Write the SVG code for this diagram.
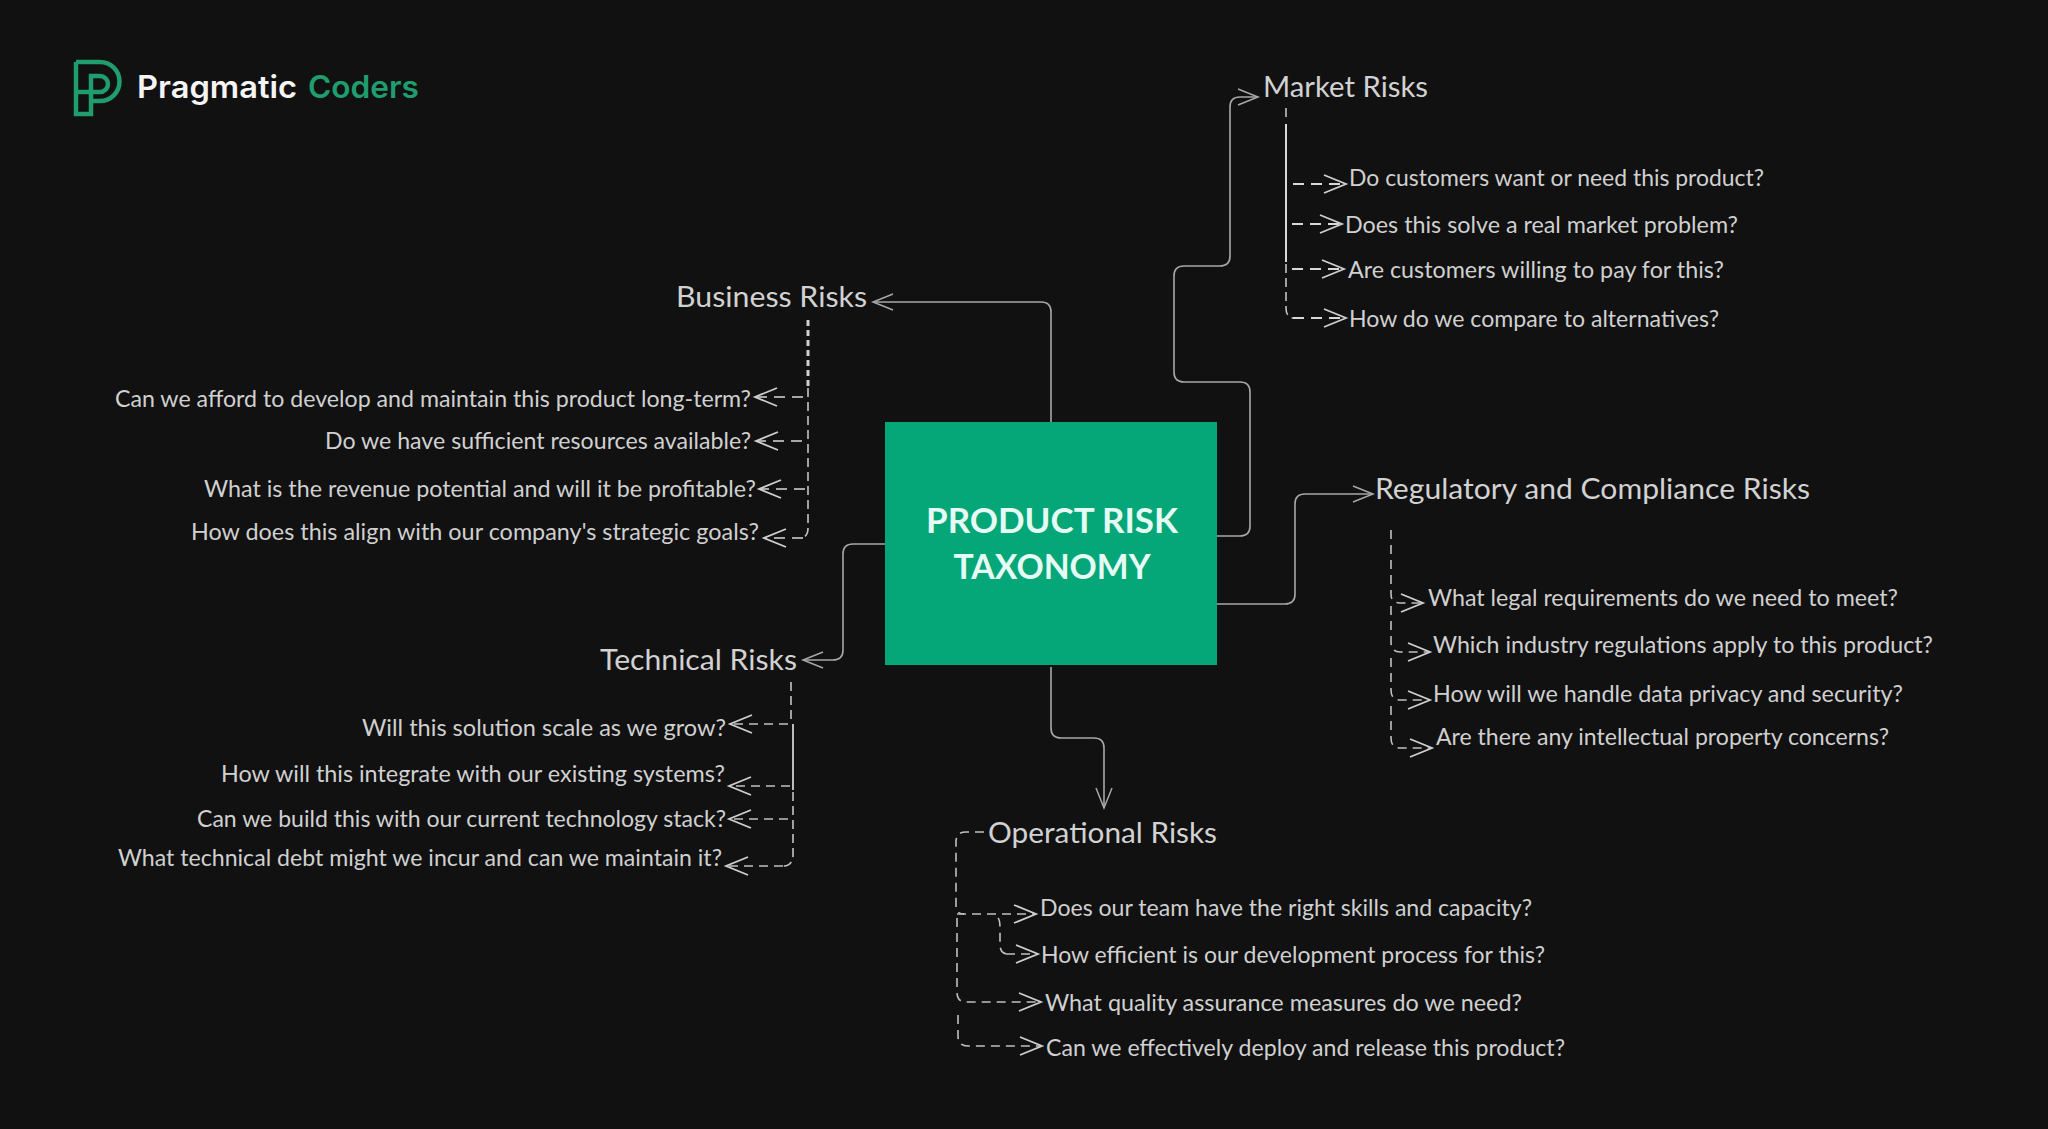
<svg xmlns="http://www.w3.org/2000/svg" width="2048" height="1129" viewBox="0 0 2048 1129">
<style>
text{font-family:"Lato","Noto Sans","Liberation Sans",sans-serif}
.h{font-size:28px;fill:#d2d2d2}
.q{font-size:22.5px;fill:#d0d0d0}
.t{font-size:34px;font-weight:700;fill:#e6fbf4;text-anchor:middle}
.c{fill:none;stroke:#a8a8a8;stroke-width:1.6;stroke-linejoin:round}
.s{marker-end:url(#big)}
.d{fill:none;stroke:#c0c0c0;stroke-width:1.6;stroke-dasharray:9 6}
.a{marker-end:url(#head)}
.b{stroke:#d8d8d8;stroke-width:2.2;stroke-dasharray:11 7}
.stem{fill:none;stroke:#c4c4c4;stroke-width:1.6;stroke-dasharray:9 5}
.l{fill:none;stroke:#1f9d6e;stroke-width:4.5}
.lt{font-size:31px;font-weight:600;font-family:"Inter","Lato",sans-serif}
</style>
<defs>
<marker id="head" markerUnits="userSpaceOnUse" markerWidth="28" markerHeight="24" refX="25" refY="12" orient="auto"><path d="M3,3 L25,12 L3,21" fill="none" stroke="#cfcfcf" stroke-width="1.8"/></marker>
<marker id="big" markerUnits="userSpaceOnUse" markerWidth="26" markerHeight="22" refX="22" refY="11" orient="auto"><path d="M2,3 L22,11 L2,19" fill="none" stroke="#a8a8a8" stroke-width="1.5"/></marker>
</defs>
<rect width="2048" height="1129" fill="#111111"/>

<g id="connectors">
<path class="c s" d="M1051,422 V312 Q1051,302 1041,302 H873"/>
<path class="c s" d="M1217,536 H1240 Q1250,536 1250,526 V392 Q1250,382 1240,382 H1184 Q1174,382 1174,372 V276 Q1174,266 1184,266 H1220 Q1230,266 1230,256 V107 Q1230,97 1240,97 H1258"/>
<path class="c s" d="M1217,604 H1285 Q1295,604 1295,594 V504 Q1295,494 1305,494 H1373"/>
<path class="c s" d="M885,544 H853 Q843,544 843,554 V650 Q843,660 833,660 H803"/>
<path class="c s" d="M1051,667 V728 Q1051,738 1061,738 H1094 Q1104,738 1104,748 V808"/>

<path class="stem" d="M1286,108 V122"/>
<path fill="none" stroke="#d8d8d8" stroke-width="2" d="M1286,124 V262"/>
<path class="stem" d="M1286,264 V308 Q1286,317 1293,318"/>
<path class="d b a" d="M1293,184 H1346"/>
<path class="d b a" d="M1292,224 H1342"/>
<path class="d b a" d="M1292,269 H1344"/>
<path class="d b a" d="M1293,318 H1346"/>

<path class="stem" style="stroke-width:3;stroke-dasharray:6 4;stroke:#d0d0d0" d="M808,320 V388"/>
<path class="stem" d="M808,388 V528 Q808,537 801,538"/>
<path class="d b a" style="stroke-width:1.7" d="M803,397 H755"/>
<path class="d b a" style="stroke-width:1.7" d="M802,441 H756"/>
<path class="d b a" style="stroke-width:1.7" d="M805,489 H759"/>
<path class="d b a" style="stroke-width:1.7" d="M803,538 H764"/>

<path class="stem" d="M791,682 V722"/>
<path fill="none" stroke="#d0d0d0" stroke-width="1.8" d="M793,724 V790"/>
<path class="stem" d="M793,792 V856 Q792,866 783,866"/>
<path class="d a" d="M788,724 H730"/>
<path class="d a" d="M790,786 H729"/>
<path class="d a" d="M788,819 H729"/>
<path class="d a" d="M783,866 H726"/>

<path class="d" d="M984,832 H966 Q956,832 956,842 V905 Q956,914 964,914"/>
<path class="d a" d="M957,914 H1036"/>
<path class="d" d="M998,918 Q1000,920 1000,928 V944 Q1000,954 1008,954"/>
<path class="d a" d="M1006,954 H1038"/>
<path class="d a" d="M957,918 V992 Q957,1002 966,1002 H1041"/>
<path class="d a" d="M958,1015 V1036 Q958,1046 968,1046 H1042"/>

<path class="d a" d="M1391,530 V594 Q1391,603 1400,603 H1423"/>
<path class="d a" d="M1391,606 V642 Q1391,652 1400,652 H1430"/>
<path class="d a" d="M1391,658 V690 Q1391,700 1400,700 H1430"/>
<path class="d a" d="M1391,706 V738 Q1391,748 1400,748 H1432"/>
</g>

<g id="logo">
<path class="l" d="M100,101 H91 M76,62 H100 A19.500,19.500 0 0 1 100,101 M76,62 V114 H91 V76 H100 A8,8 0 0 1 100,92 H76"/>
<text class="lt" x="137" y="98" fill="#f5f5f5" textLength="160" lengthAdjust="spacingAndGlyphs">Pragmatic</text>
<text class="lt" x="308" y="98" fill="#1f9d6e" textLength="111" lengthAdjust="spacingAndGlyphs">Coders</text>
</g>

<g id="root">
<rect x="885" y="422" width="332" height="243" fill="#05a677"/>
<text class="t" x="1052" y="533" textLength="252" lengthAdjust="spacingAndGlyphs">PRODUCT RISK</text>
<text class="t" x="1052" y="579" textLength="197" lengthAdjust="spacingAndGlyphs">TAXONOMY</text>
</g>

<g id="market-risks"><text class="h" x="1263" y="97" textLength="165" lengthAdjust="spacingAndGlyphs">Market Risks</text></g>
<g id="m1"><text class="q" x="1349" y="186" textLength="415" lengthAdjust="spacingAndGlyphs">Do customers want or need this product?</text></g>
<g id="m2"><text class="q" x="1345" y="233" textLength="393" lengthAdjust="spacingAndGlyphs">Does this solve a real market problem?</text></g>
<g id="m3"><text class="q" x="1348" y="278" textLength="376" lengthAdjust="spacingAndGlyphs">Are customers willing to pay for this?</text></g>
<g id="m4"><text class="q" x="1349" y="327" textLength="370" lengthAdjust="spacingAndGlyphs">How do we compare to alternatives?</text></g>

<g id="business-risks"><text class="h" x="676" y="307" textLength="191" lengthAdjust="spacingAndGlyphs">Business Risks</text></g>
<g id="b1"><text class="q" x="115" y="407" textLength="636" lengthAdjust="spacingAndGlyphs">Can we afford to develop and maintain this product long-term?</text></g>
<g id="b2"><text class="q" x="325" y="449" textLength="426" lengthAdjust="spacingAndGlyphs">Do we have sufficient resources available?</text></g>
<g id="b3"><text class="q" x="204" y="497" textLength="552" lengthAdjust="spacingAndGlyphs">What is the revenue potential and will it be profitable?</text></g>
<g id="b4"><text class="q" x="191" y="540" textLength="568" lengthAdjust="spacingAndGlyphs">How does this align with our company's strategic goals?</text></g>

<g id="technical-risks"><text class="h" x="600" y="670" textLength="197" lengthAdjust="spacingAndGlyphs">Technical Risks</text></g>
<g id="t1"><text class="q" x="362" y="736" textLength="364" lengthAdjust="spacingAndGlyphs">Will this solution scale as we grow?</text></g>
<g id="t2"><text class="q" x="221" y="782" textLength="504" lengthAdjust="spacingAndGlyphs">How will this integrate with our existing systems?</text></g>
<g id="t3"><text class="q" x="197" y="827" textLength="529" lengthAdjust="spacingAndGlyphs">Can we build this with our current technology stack?</text></g>
<g id="t4"><text class="q" x="118" y="866" textLength="604" lengthAdjust="spacingAndGlyphs">What technical debt might we incur and can we maintain it?</text></g>

<g id="operational-risks"><text class="h" x="988" y="843" textLength="229" lengthAdjust="spacingAndGlyphs">Operational Risks</text></g>
<g id="o1"><text class="q" x="1040" y="916" textLength="492" lengthAdjust="spacingAndGlyphs">Does our team have the right skills and capacity?</text></g>
<g id="o2"><text class="q" x="1041" y="963" textLength="504" lengthAdjust="spacingAndGlyphs">How efficient is our development process for this?</text></g>
<g id="o3"><text class="q" x="1045" y="1011" textLength="477" lengthAdjust="spacingAndGlyphs">What quality assurance measures do we need?</text></g>
<g id="o4"><text class="q" x="1046" y="1056" textLength="519" lengthAdjust="spacingAndGlyphs">Can we effectively deploy and release this product?</text></g>

<g id="regulatory-risks"><text class="h" x="1375" y="499" textLength="435" lengthAdjust="spacingAndGlyphs">Regulatory and Compliance Risks</text></g>
<g id="r1"><text class="q" x="1428" y="606" textLength="470" lengthAdjust="spacingAndGlyphs">What legal requirements do we need to meet?</text></g>
<g id="r2"><text class="q" x="1433" y="653" textLength="500" lengthAdjust="spacingAndGlyphs">Which industry regulations apply to this product?</text></g>
<g id="r3"><text class="q" x="1433" y="702" textLength="470" lengthAdjust="spacingAndGlyphs">How will we handle data privacy and security?</text></g>
<g id="r4"><text class="q" x="1436" y="745" textLength="453" lengthAdjust="spacingAndGlyphs">Are there any intellectual property concerns?</text></g>
</svg>
